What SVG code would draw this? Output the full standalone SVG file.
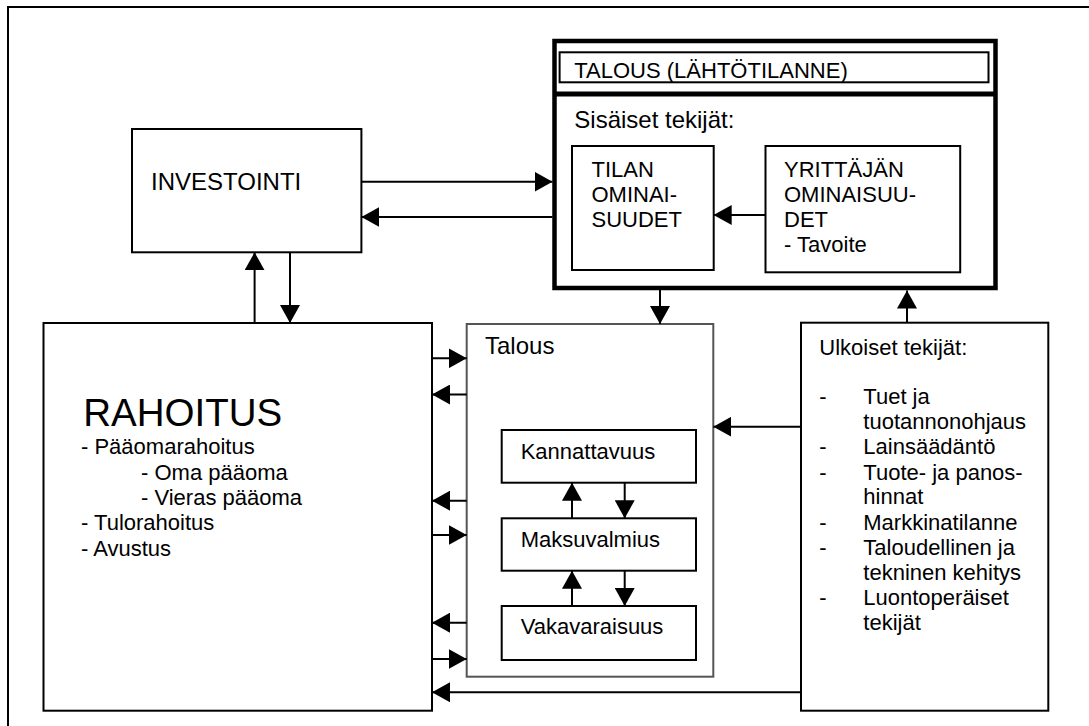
<svg xmlns="http://www.w3.org/2000/svg" width="1089" height="726" viewBox="0 0 1089 726">
  <style>
    .box { fill: #ffffff; stroke: #000000; stroke-width: 2; }
    .gray { fill: #ffffff; stroke: #555555; stroke-width: 2; }
    .thick { fill: #ffffff; stroke: #000000; stroke-width: 4.5; }
    .ln { stroke: #000000; stroke-width: 2; fill: none; }
    .arr { stroke: #000000; stroke-width: 2; fill: none; marker-end: url(#head); }
    text { font-family: "Liberation Sans", Arial, Helvetica, sans-serif; fill: #000000; }
    .t24 { font-size: 24px; }
    .t22 { font-size: 22px; }
    .big { font-size: 38.5px; }
  </style>
  <defs>
    <marker id="head" viewBox="0 0 18 20" refX="18" refY="10" markerWidth="18" markerHeight="20" markerUnits="userSpaceOnUse" orient="auto">
      <path d="M0,0 L18,10 L0,20 Z" fill="#000000"/>
    </marker>
  </defs>

  <rect x="0" y="0" width="1089" height="726" fill="#ffffff"/>

  <!-- page frame: only top and left edges -->
  <g id="frame">
    <path class="ln" d="M8,726 L8,7 L1089,7"/>
  </g>

  <g id="investointi">
    <rect class="box" x="132" y="129" width="229.4" height="123.3"/>
    <text class="t24" x="151" y="190">INVESTOINTI</text>
  </g>

  <g id="talous-lahtotilanne">
    <rect class="thick" x="554.5" y="41" width="441" height="247"/>
    <rect class="box" x="559.6" y="52.3" width="428.9" height="30" stroke-width="1.5"/>
    <text class="t22" x="574.3" y="77.7">TALOUS (LÄHTÖTILANNE)</text>
    <line x1="554.5" y1="94" x2="995.5" y2="94" stroke="#000000" stroke-width="5"/>
    <text class="t24" x="574.3" y="127.7">Sisäiset tekijät:</text>
  </g>

  <g id="tilan-ominaisuudet">
    <rect class="box" x="572" y="146" width="141.7" height="124"/>
    <text class="t22" x="591.5" y="177">TILAN</text>
    <text class="t22" x="591.5" y="202">OMINAI-</text>
    <text class="t22" x="591.5" y="227">SUUDET</text>
  </g>

  <g id="yrittajan-ominaisuudet">
    <rect class="box" x="765.5" y="146" width="194.7" height="126.3"/>
    <text class="t22" x="784" y="177">YRITTÄJÄN</text>
    <text class="t22" x="784" y="202">OMINAISUU-</text>
    <text class="t22" x="784" y="227">DET</text>
    <text class="t22" x="784" y="252">- Tavoite</text>
  </g>

  <g id="rahoitus">
    <rect class="box" x="43.5" y="323" width="388.5" height="387.7"/>
    <text class="big" x="83.3" y="426">RAHOITUS</text>
    <text class="t22" x="81" y="454.3">- Pääomarahoitus</text>
    <text class="t22" x="141" y="480">- Oma pääoma</text>
    <text class="t22" x="141" y="505">- Vieras pääoma</text>
    <text class="t22" x="81" y="530">- Tulorahoitus</text>
    <text class="t22" x="81" y="555.7">- Avustus</text>
  </g>

  <g id="talous">
    <rect class="gray" x="466.7" y="324" width="246.6" height="352.7"/>
    <text class="t24" x="485" y="354.3">Talous</text>
  </g>

  <g id="kannattavuus">
    <rect class="box" x="501.7" y="430" width="194.3" height="52.7"/>
    <text class="t22" x="520.7" y="459.3">Kannattavuus</text>
  </g>

  <g id="maksuvalmius">
    <rect class="box" x="501.7" y="518.3" width="194.3" height="52.4"/>
    <text class="t22" x="520.7" y="546.7">Maksuvalmius</text>
  </g>

  <g id="vakavaraisuus">
    <rect class="box" x="501.7" y="606" width="194.3" height="54"/>
    <text class="t22" x="520.7" y="634.3">Vakavaraisuus</text>
  </g>

  <g id="ulkoiset">
    <rect class="box" x="801" y="322.7" width="247.3" height="388"/>
    <text class="t22" x="819.3" y="355">Ulkoiset tekijät:</text>
    <text class="t22" x="819.3" y="404">-</text>
    <text class="t22" x="863.3" y="404">Tuet ja</text>
    <text class="t22" x="863.3" y="429">tuotannonohjaus</text>
    <text class="t22" x="819.3" y="454">-</text>
    <text class="t22" x="863.3" y="454">Lainsäädäntö</text>
    <text class="t22" x="819.3" y="480">-</text>
    <text class="t22" x="863.3" y="480">Tuote- ja panos-</text>
    <text class="t22" x="863.3" y="504">hinnat</text>
    <text class="t22" x="819.3" y="530">-</text>
    <text class="t22" x="863.3" y="530">Markkinatilanne</text>
    <text class="t22" x="819.3" y="555">-</text>
    <text class="t22" x="863.3" y="555">Taloudellinen ja</text>
    <text class="t22" x="863.3" y="580">tekninen kehitys</text>
    <text class="t22" x="819.3" y="605">-</text>
    <text class="t22" x="863.3" y="605">Luontoperäiset</text>
    <text class="t22" x="863.3" y="630">tekijät</text>
  </g>

  <g id="connectors">
    <!-- investointi <-> talous (lähtötilanne) -->
    <line class="arr" x1="361.4" y1="181.7" x2="552.5" y2="181.7"/>
    <line class="arr" x1="552.5" y1="217" x2="361.4" y2="217"/>
    <!-- rahoitus <-> investointi -->
    <line class="arr" x1="254.6" y1="323" x2="254.6" y2="252.3"/>
    <line class="arr" x1="290" y1="252.3" x2="290" y2="323"/>
    <!-- yrittäjän -> tilan -->
    <line class="arr" x1="765.5" y1="215" x2="713.7" y2="215"/>
    <!-- lähtötilanne -> talous, ulkoiset -> lähtötilanne -->
    <line class="arr" x1="660" y1="290" x2="660" y2="324"/>
    <line class="arr" x1="907" y1="322.7" x2="907" y2="290.5"/>
    <!-- ulkoiset -> talous, ulkoiset -> rahoitus -->
    <line class="arr" x1="801" y1="426.7" x2="713.3" y2="426.7"/>
    <line class="arr" x1="801" y1="692.3" x2="432" y2="692.3"/>
    <!-- rahoitus <-> talous -->
    <line class="arr" x1="432" y1="358.3" x2="466.7" y2="358.3"/>
    <line class="arr" x1="466.7" y1="394.5" x2="432" y2="394.5"/>
    <line class="arr" x1="466.7" y1="500.7" x2="432" y2="500.7"/>
    <line class="arr" x1="432" y1="535" x2="466.7" y2="535"/>
    <line class="arr" x1="466.7" y1="622.7" x2="432" y2="622.7"/>
    <line class="arr" x1="432" y1="659" x2="466.7" y2="659"/>
    <!-- kannattavuus <-> maksuvalmius <-> vakavaraisuus -->
    <line class="arr" x1="572" y1="518.3" x2="572" y2="482.7"/>
    <line class="arr" x1="624.7" y1="482.7" x2="624.7" y2="518.3"/>
    <line class="arr" x1="572" y1="606" x2="572" y2="570.7"/>
    <line class="arr" x1="624.7" y1="570.7" x2="624.7" y2="606"/>
  </g>
</svg>
